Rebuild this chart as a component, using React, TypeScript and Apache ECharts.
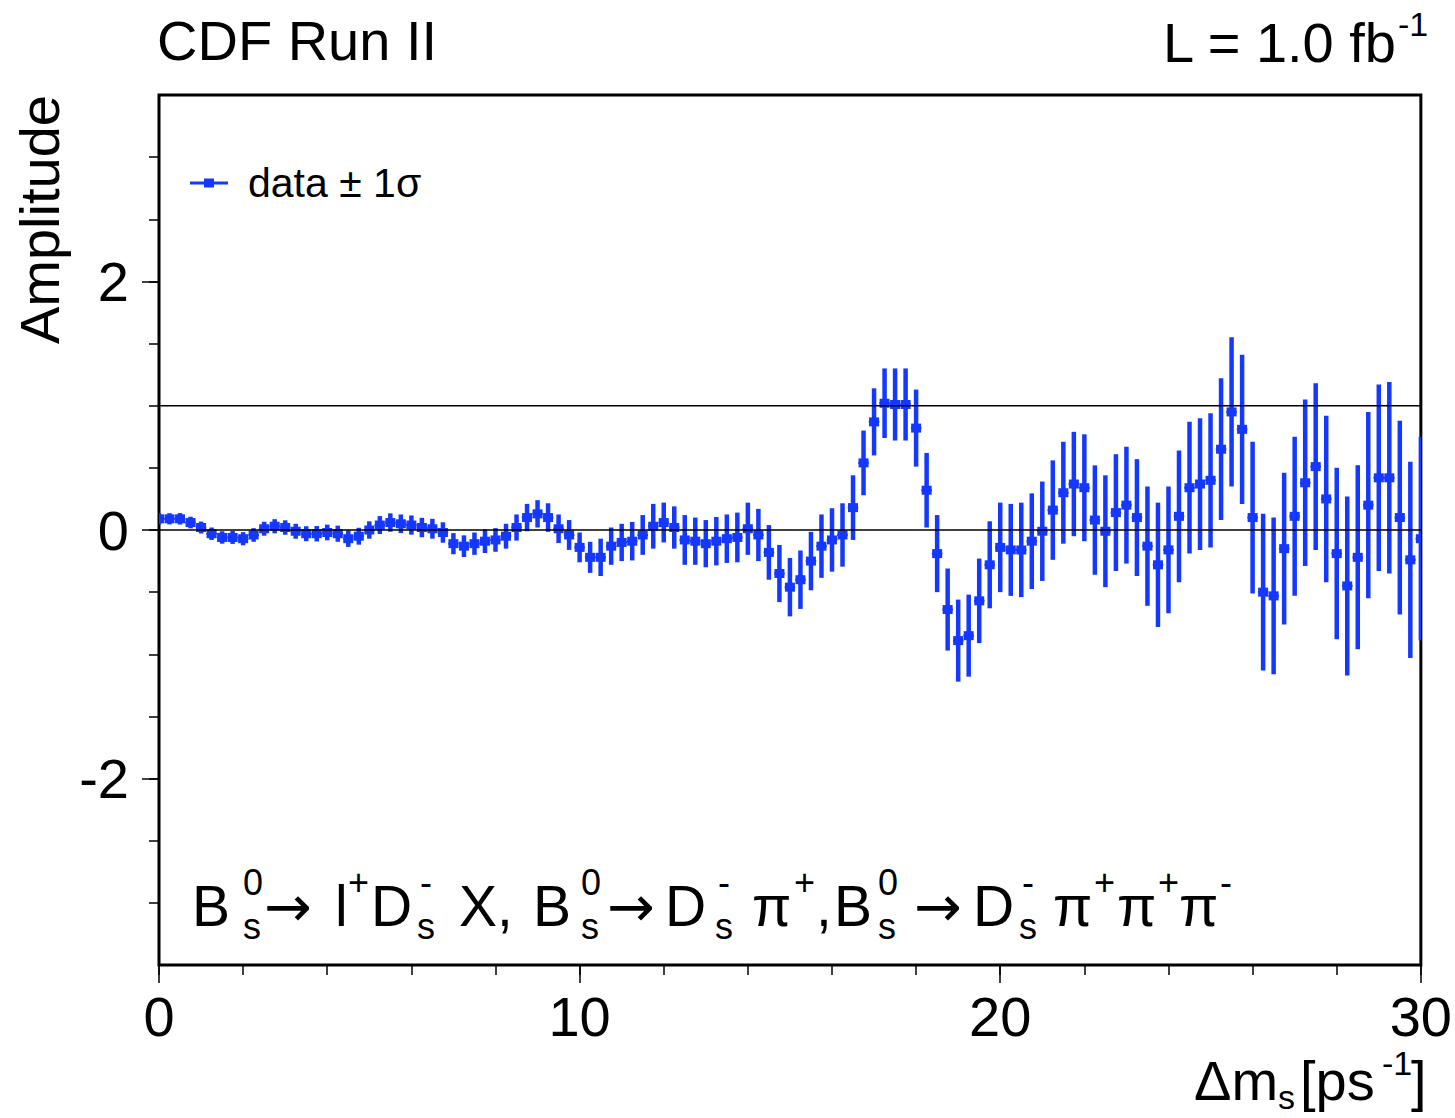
import React, { useEffect, useRef } from "react";
import * as echarts from "echarts";

// Δm_s scan points [ps^-1]
const dmValues = [
  0, 0.25, 0.5, 0.75, 1, 1.25, 1.5, 1.75, 2, 2.25, 2.5, 2.75, 3, 3.25, 3.5, 3.75,
  4, 4.25, 4.5, 4.75, 5, 5.25, 5.5, 5.75, 6, 6.25, 6.5, 6.75, 7, 7.25, 7.5, 7.75,
  8, 8.25, 8.5, 8.75, 9, 9.25, 9.5, 9.75, 10, 10.25, 10.5, 10.75, 11, 11.25, 11.5, 11.75,
  12, 12.25, 12.5, 12.75, 13, 13.25, 13.5, 13.75, 14, 14.25, 14.5, 14.75, 15, 15.25, 15.5, 15.75,
  16, 16.25, 16.5, 16.75, 17, 17.25, 17.5, 17.75, 18, 18.25, 18.5, 18.75, 19, 19.25, 19.5, 19.75,
  20, 20.25, 20.5, 20.75, 21, 21.25, 21.5, 21.75, 22, 22.25, 22.5, 22.75, 23, 23.25, 23.5, 23.75,
  24, 24.25, 24.5, 24.75, 25, 25.25, 25.5, 25.75, 26, 26.25, 26.5, 26.75, 27, 27.25, 27.5, 27.75,
  28, 28.25, 28.5, 28.75, 29, 29.25, 29.5, 29.75, 30,
];

// Amplitude values
const amplitude = [
  0.09, 0.09, 0.09, 0.06, 0.02, -0.03, -0.06, -0.06, -0.07, -0.04, 0.01, 0.03, 0.02, -0.01, -0.03, -0.03,
  -0.02, -0.03, -0.07, -0.05, 0.0, 0.04, 0.06, 0.05, 0.04, 0.02, 0.01, -0.02, -0.11, -0.13, -0.11, -0.09,
  -0.08, -0.05, 0.02, 0.1, 0.13, 0.1, 0.01, -0.04, -0.14, -0.22, -0.22, -0.13, -0.1, -0.09, -0.04, 0.03,
  0.06, 0.02, -0.08, -0.09, -0.11, -0.09, -0.07, -0.06, 0.01, -0.04, -0.18, -0.35, -0.46, -0.4, -0.25, -0.13,
  -0.08, -0.04, 0.18, 0.54, 0.87, 1.02, 1.01, 1.01, 0.82, 0.32, -0.19, -0.64, -0.89, -0.85, -0.57, -0.28,
  -0.14, -0.16, -0.16, -0.09, -0.01, 0.16, 0.3, 0.37, 0.34, 0.08, -0.01, 0.14, 0.2, 0.1, -0.13, -0.28,
  -0.16, 0.11, 0.34, 0.37, 0.4, 0.65, 0.95, 0.81, 0.1, -0.5, -0.53, -0.15, 0.11, 0.38, 0.51, 0.25,
  -0.19, -0.45, -0.22, 0.2, 0.42, 0.42, 0.1, -0.24, -0.07,
];

// ±1σ uncertainties
const sigma = [
  0.045, 0.045, 0.046, 0.047, 0.048, 0.05, 0.05, 0.052, 0.053, 0.055, 0.056, 0.057, 0.058, 0.06, 0.06, 0.062,
  0.063, 0.065, 0.066, 0.068, 0.07, 0.072, 0.074, 0.075, 0.077, 0.078, 0.08, 0.082, 0.085, 0.087, 0.09, 0.095,
  0.095, 0.1, 0.105, 0.11, 0.11, 0.115, 0.115, 0.12, 0.12, 0.125, 0.15, 0.15, 0.15, 0.155, 0.16, 0.18,
  0.16, 0.17, 0.2, 0.19, 0.19, 0.195, 0.195, 0.2, 0.21, 0.21, 0.22, 0.23, 0.235, 0.235, 0.235, 0.255,
  0.255, 0.255, 0.26, 0.26, 0.27, 0.28, 0.29, 0.29, 0.31, 0.3, 0.31, 0.33, 0.33, 0.33, 0.34, 0.35,
  0.36, 0.37, 0.38, 0.385, 0.4, 0.4, 0.41, 0.42, 0.43, 0.44, 0.45, 0.47, 0.47, 0.47, 0.48, 0.5,
  0.51, 0.53, 0.53, 0.53, 0.54, 0.57, 0.6, 0.6, 0.61, 0.63, 0.63, 0.61, 0.64, 0.67, 0.67, 0.67,
  0.69, 0.72, 0.74, 0.75, 0.75, 0.77, 0.78, 0.79, 0.82,
];

const binHalfWidth = 0.125;
const referenceLevels = [0, 1];

const xMinorTicks = [0, 2, 4, 6, 8, 10, 12, 14, 16, 18, 20, 22, 24, 26, 28, 30];
const xMajorTicks = [0, 10, 20, 30];
const yMinorTicks = [-3, -2.5, -2, -1.5, -1, -0.5, 0, 0.5, 1, 1.5, 2, 2.5, 3];
const yMajorTicks = [-2, 0, 2];

const BLUE = "#1438ff";
const FONT = "'Liberation Sans', Arial, Helvetica, sans-serif";
const ARROW_FONT = "'DejaVu Sans', 'Liberation Sans', sans-serif";

type Piece = { t: string; x: number; k: "main" | "sup" | "sub" | "arrow" };

const decayPieces: Piece[] = [
  { t: "B", x: 192, k: "main" }, { t: "0", x: 243, k: "sup" }, { t: "s", x: 243, k: "sub" },
  { t: "→", x: 264, k: "arrow" },
  { t: "l", x: 335, k: "main" }, { t: "+", x: 348, k: "sup" },
  { t: "D", x: 371, k: "main" }, { t: "-", x: 420, k: "sup" }, { t: "s", x: 417, k: "sub" },
  { t: "X,", x: 459, k: "main" },
  { t: "B", x: 533, k: "main" }, { t: "0", x: 581, k: "sup" }, { t: "s", x: 581, k: "sub" },
  { t: "→", x: 607, k: "arrow" },
  { t: "D", x: 665, k: "main" }, { t: "-", x: 718, k: "sup" }, { t: "s", x: 715, k: "sub" },
  { t: "π", x: 752, k: "main" }, { t: "+", x: 794, k: "sup" }, { t: ",", x: 816, k: "main" },
  { t: "B", x: 834, k: "main" }, { t: "0", x: 878, k: "sup" }, { t: "s", x: 878, k: "sub" },
  { t: "→", x: 914, k: "arrow" },
  { t: "D", x: 973, k: "main" }, { t: "-", x: 1022, k: "sup" }, { t: "s", x: 1019, k: "sub" },
  { t: "π", x: 1053, k: "main" }, { t: "+", x: 1094, k: "sup" },
  { t: "π", x: 1117, k: "main" }, { t: "+", x: 1158, k: "sup" },
  { t: "π", x: 1179, k: "main" }, { t: "-", x: 1220, k: "sup" },
];

const axisNamePieces: Piece[] = [
  { t: "Δm", x: 1194, k: "main" },
  { t: "s", x: 1278, k: "sub" },
  { t: "[ps", x: 1300, k: "main" },
  { t: "-1", x: 1382, k: "sup" },
  { t: "]", x: 1411, k: "main" },
];

function piecesToGraphic(
  pieces: Piece[],
  mainY: number,
  mainSize: number,
  subSize: number,
  supDy: number,
  subDy: number
) {
  return pieces.map((p) => {
    let y = mainY;
    let font = `${mainSize}px ${FONT}`;
    if (p.k === "sup") {
      y = mainY + supDy;
      font = `${subSize}px ${FONT}`;
    } else if (p.k === "sub") {
      y = mainY + subDy;
      font = `${subSize}px ${FONT}`;
    } else if (p.k === "arrow") {
      font = `${mainSize}px ${ARROW_FONT}`;
    }
    return {
      type: "text",
      x: p.x,
      y,
      style: { text: p.t, fill: "#000", font, align: "left", verticalAlign: "middle" },
    };
  });
}

export default function App() {
  const ref = useRef<HTMLDivElement>(null);

  useEffect(() => {
    document.body.style.margin = "0";
    const chart = echarts.init(ref.current!, null, { renderer: "svg" });
    const points = dmValues.map((x, i) => [x, amplitude[i], sigma[i]]);

    const tickStyle = { color: "#000", width: 1.5 };

    const option: any = {
      animation: false,
      backgroundColor: "#fff",
      grid: {
        left: 159,
        top: 95,
        width: 1262,
        height: 870,
        show: true,
        borderColor: "#000",
        borderWidth: 3,
        backgroundColor: "transparent",
      },
      xAxis: [
        {
          type: "value",
          min: 0,
          max: 30,
          position: "bottom",
          axisLine: { show: false, onZero: false },
          splitLine: { show: false },
          axisTick: { show: true, customValues: xMinorTicks, length: 10, lineStyle: tickStyle },
          axisLabel: { show: false },
        },
        {
          type: "value",
          min: 0,
          max: 30,
          position: "bottom",
          axisLine: { show: false, onZero: false },
          splitLine: { show: false },
          axisTick: { show: true, customValues: xMajorTicks, length: 18, lineStyle: tickStyle },
          axisLabel: {
            show: true,
            customValues: xMajorTicks,
            margin: 23,
            fontSize: 56,
            fontFamily: FONT,
            color: "#000",
          },
        },
      ],
      yAxis: [
        {
          type: "value",
          min: -3.5,
          max: 3.5,
          position: "left",
          axisLine: { show: false, onZero: false },
          splitLine: { show: false },
          axisTick: { show: true, customValues: yMinorTicks, length: 10, lineStyle: tickStyle },
          axisLabel: { show: false },
        },
        {
          type: "value",
          min: -3.5,
          max: 3.5,
          position: "left",
          axisLine: { show: false, onZero: false },
          splitLine: { show: false },
          axisTick: { show: true, customValues: yMajorTicks, length: 17, lineStyle: tickStyle },
          axisLabel: {
            show: true,
            customValues: yMajorTicks,
            margin: 30,
            fontSize: 56,
            fontFamily: FONT,
            color: "#000",
          },
        },
      ],
      series: [
        {
          type: "custom",
          xAxisIndex: 0,
          yAxisIndex: 0,
          clip: true,
          z: 2,
          data: points,
          renderItem: (params: any, api: any) => {
            const x = api.value(0);
            const v = api.value(1);
            const e = api.value(2);
            const top = api.coord([x, v + e]);
            const bot = api.coord([x, v - e]);
            const c = api.coord([x, v]);
            const l = api.coord([x - binHalfWidth, v]);
            const r = api.coord([x + binHalfWidth, v]);
            return {
              type: "group",
              children: [
                {
                  type: "line",
                  shape: { x1: top[0], y1: top[1], x2: bot[0], y2: bot[1] },
                  style: { stroke: BLUE, lineWidth: 4.5 },
                },
                {
                  type: "line",
                  shape: { x1: l[0], y1: l[1], x2: r[0], y2: r[1] },
                  style: { stroke: BLUE, lineWidth: 2 },
                },
                {
                  type: "rect",
                  shape: { x: c[0] - 5, y: c[1] - 4.5, width: 10, height: 9 },
                  style: { fill: BLUE },
                },
              ],
            };
          },
        },
        ...referenceLevels.map((lvl) => ({
          type: "line",
          xAxisIndex: 0,
          yAxisIndex: 0,
          z: 5,
          symbol: "none",
          silent: true,
          lineStyle: { color: "#000", width: 1.6 },
          data: [
            [0, lvl],
            [30, lvl],
          ],
        })),
      ],
      graphic: [
        {
          type: "text",
          x: 157,
          y: 40,
          style: { text: "CDF Run II", fill: "#000", font: `56px ${FONT}`, align: "left", verticalAlign: "middle" },
        },
        {
          type: "text",
          x: 1396,
          y: 42,
          style: { text: "L = 1.0 fb", fill: "#000", font: `56px ${FONT}`, align: "right", verticalAlign: "middle" },
        },
        {
          type: "text",
          x: 1398,
          y: 24,
          style: { text: "-1", fill: "#000", font: `34px ${FONT}`, align: "left", verticalAlign: "middle" },
        },
        {
          type: "text",
          x: 39,
          y: 95,
          rotation: Math.PI / 2,
          style: { text: "Amplitude", fill: "#000", font: `56px ${FONT}`, align: "right", verticalAlign: "middle" },
        },
        {
          type: "line",
          shape: { x1: 190, y1: 183, x2: 228, y2: 183 },
          style: { stroke: BLUE, lineWidth: 3 },
        },
        {
          type: "rect",
          shape: { x: 204, y: 178.5, width: 10, height: 9 },
          style: { fill: BLUE },
        },
        {
          type: "text",
          x: 248,
          y: 183,
          style: { text: "data ± 1σ", fill: "#000", font: `41px ${FONT}`, align: "left", verticalAlign: "middle" },
        },
        ...piecesToGraphic(decayPieces, 906, 57, 36, -24, 20),
        ...piecesToGraphic(axisNamePieces, 1080, 56, 34, -17, 17),
      ],
    };

    chart.setOption(option);
    return () => chart.dispose();
  }, []);

  return (
    <div
      ref={ref}
      style={{ position: "absolute", left: 0, top: 0, width: 1455, height: 1118, background: "#fff" }}
    />
  );
}
